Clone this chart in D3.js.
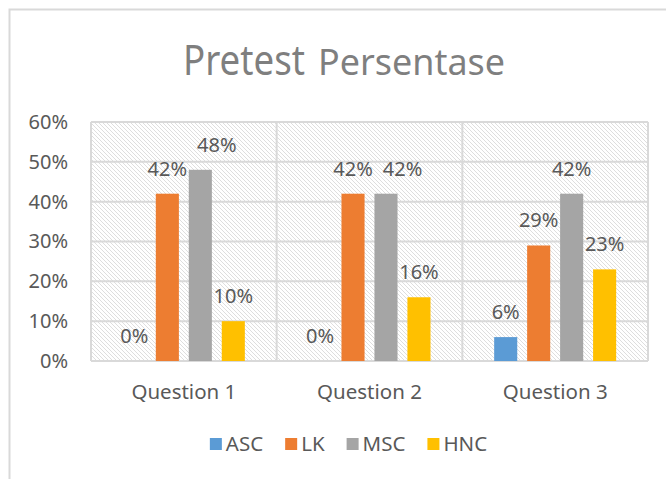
<!DOCTYPE html>
<html>
<head>
<meta charset="utf-8">
<script src="https://cdn.jsdelivr.net/npm/d3@7/dist/d3.min.js"></script>
<style>
  html, body { margin: 0; padding: 0; background: #ffffff; }
  svg { display: block; }
  text { font-family: "Noto Sans", "Open Sans", sans-serif; }
</style>
</head>
<body>
<svg id="chart" width="666" height="479"></svg>
<script>
// ---- data ----
const categories = ["Question 1", "Question 2", "Question 3"];
const seriesNames = ["ASC", "LK", "MSC", "HNC"];
const ascValues = [0.00, 0.00, 0.06];
const lkValues  = [0.42, 0.42, 0.29];
const mscValues = [0.48, 0.42, 0.42];
const hncValues = [0.10, 0.16, 0.23];
const seriesColors = ["#5b9bd5", "#ed7d31", "#a5a5a5", "#ffc000"];
const yTicks = [0, 0.1, 0.2, 0.3, 0.4, 0.5, 0.6];
const titleMain = "Pretest";
const titleSub = "Persentase";

const seriesValues = [ascValues, lkValues, mscValues, hncValues];
const rows = [];
categories.forEach((c, i) => {
  seriesNames.forEach((s, j) => {
    rows.push({ cat: c, series: s, value: seriesValues[j][i], color: seriesColors[j] });
  });
});

// ---- layout ----
const svg = d3.select("#chart");
const plot = { left: 91, right: 648, top: 122, bottom: 361 };
const textColor = "#595959";
const lineColor = "#d9d9d9";

// outer border (chart area)
svg.append("path")
  .attr("d", "M9.5,479 L9.5,9.5 L666,9.5")
  .attr("fill", "none").attr("stroke", lineColor).attr("stroke-width", 2);

// hatch pattern
const defs = svg.append("defs");
const pat = defs.append("pattern")
  .attr("id", "hatch").attr("patternUnits", "userSpaceOnUse")
  .attr("width", 4).attr("height", 4);
pat.append("rect").attr("width", 4).attr("height", 4).attr("fill", "#ffffff");
pat.append("path")
  .attr("d", "M0,0 L4,4 M-1,3 L1,5 M3,-1 L5,1")
  .attr("stroke", "#dedede").attr("stroke-width", 1);

// scales
const x0 = d3.scaleBand().domain(categories).range([plot.left, plot.right]).padding(0);
const groupW = 122;
const x1 = d3.scaleBand().domain(seriesNames)
  .range([(x0.bandwidth() - groupW) / 2, (x0.bandwidth() + groupW) / 2])
  .paddingInner(0.3).paddingOuter(0);
const y = d3.scaleLinear().domain([0, 0.6]).range([plot.bottom, plot.top]);

// plot background
svg.append("rect")
  .attr("x", plot.left).attr("y", plot.top)
  .attr("width", plot.right - plot.left).attr("height", plot.bottom - plot.top)
  .attr("fill", "url(#hatch)");

// horizontal gridlines
svg.append("g").selectAll("line").data(yTicks).join("line")
  .attr("x1", plot.left).attr("x2", plot.right)
  .attr("y1", d => y(d)).attr("y2", d => y(d))
  .attr("stroke", lineColor).attr("stroke-width", 2);

// vertical gridlines at category boundaries
const bounds = categories.map(c => x0(c)).concat([plot.right]);
svg.append("g").selectAll("line").data(bounds).join("line")
  .attr("x1", d => d).attr("x2", d => d)
  .attr("y1", plot.top).attr("y2", plot.bottom)
  .attr("stroke", lineColor).attr("stroke-width", 2);

// y axis
const yAxis = svg.append("g")
  .attr("transform", `translate(${plot.left},0)`)
  .call(d3.axisLeft(y).tickValues(yTicks).tickFormat(d3.format(".0%")).tickSize(0).tickPadding(23));
yAxis.select(".domain").remove();
yAxis.selectAll("text").attr("fill", textColor).attr("font-size", 20)
  .attr("font-family", "'Noto Sans', sans-serif");

// x axis
const xAxis = svg.append("g")
  .attr("transform", `translate(0,${plot.bottom})`)
  .call(d3.axisBottom(x0).tickSize(0).tickPadding(23));
xAxis.select(".domain").remove();
xAxis.selectAll("text").attr("fill", textColor).attr("font-size", 20.5)
  .attr("font-family", "'Noto Sans', sans-serif");

// bars
svg.append("g").selectAll("rect").data(rows).join("rect")
  .attr("x", d => x0(d.cat) + x1(d.series))
  .attr("y", d => y(d.value))
  .attr("width", x1.bandwidth())
  .attr("height", d => y(0) - y(d.value))
  .attr("fill", d => d.color);

// data labels (outside end, nudged right when they collide with the previous label)
const labels = svg.append("g").selectAll("text").data(rows).join("text")
  .attr("x", d => x0(d.cat) + x1(d.series) + x1.bandwidth() / 2)
  .attr("y", d => y(d.value) - 18)
  .attr("text-anchor", "middle")
  .attr("fill", textColor)
  .attr("font-size", 20)
  .text(d => d3.format(".0%")(d.value));
const nodes = labels.nodes();
for (let i = 1; i < nodes.length; i++) {
  const a = rows[i - 1], b = rows[i];
  if (a.cat !== b.cat) continue;
  const ba = nodes[i - 1].getBBox(), bb = nodes[i].getBBox();
  const vOverlap = !(ba.y + ba.height <= bb.y || bb.y + bb.height <= ba.y);
  const gap = 10;
  if (vOverlap && bb.x < ba.x + ba.width + gap) {
    const shift = ba.x + ba.width + gap - bb.x;
    nodes[i].setAttribute("x", +nodes[i].getAttribute("x") + shift);
  }
}

// title
const title = svg.append("text")
  .attr("x", 344).attr("y", 75)
  .attr("text-anchor", "middle")
  .attr("fill", "#7f7f7f");
title.append("tspan").attr("font-size", 41)
  .attr("textLength", 122).attr("lengthAdjust", "spacingAndGlyphs").text(titleMain);
title.append("tspan").attr("font-size", 36).attr("dx", 13)
  .attr("textLength", 187).attr("lengthAdjust", "spacingAndGlyphs").text(titleSub);

// legend
const legend = svg.append("g");
const legendY = 444;
const sq = 12;
const itemGap = 22;
let lx = 0;
seriesNames.forEach((s, i) => {
  const g = legend.append("g");
  g.append("rect").attr("x", 0).attr("y", -sq / 2).attr("width", sq).attr("height", sq)
    .attr("fill", seriesColors[i]);
  const t = g.append("text").attr("x", sq + 4).attr("y", 0).attr("dy", "0.35em")
    .attr("fill", textColor).attr("font-size", 20.5).text(s);
  const w = t.node().getComputedTextLength();
  g.attr("transform", `translate(${lx},${legendY})`);
  lx += sq + 4 + w + itemGap;
});
const totalW = lx - itemGap;
legend.attr("transform", `translate(${348.5 - totalW / 2},0)`);
</script>
</body>
</html>
